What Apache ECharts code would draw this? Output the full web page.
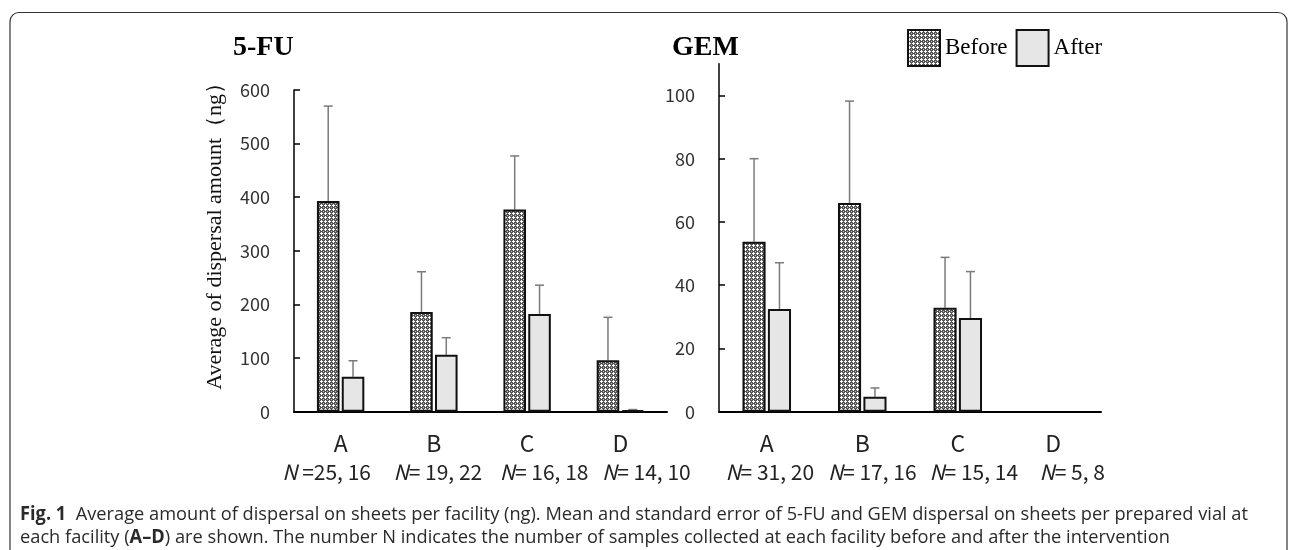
<!DOCTYPE html>
<html>
<head>
<meta charset="utf-8">
<script src="https://cdn.jsdelivr.net/npm/echarts@6/dist/echarts.min.js"></script>
<style>html,body{margin:0;padding:0;background:#fff}#c{width:1295px;height:550px}</style>
</head>
<body>
<div id="c"></div>
<script>
// ---------- data ----------
const categories = ['A', 'B', 'C', 'D'];
const fuBefore   = [393, 186, 377, 96];
const fuBeforeSE = [177, 75, 100, 80];
const fuAfter    = [65, 106, 182, 3];
const fuAfterSE  = [30, 32, 54, 1];
const gemBefore   = [53.7, 66, 32.9, null];
const gemBeforeSE = [26.3, 32.2, 15.9, null];
const gemAfter    = [32.5, 4.7, 29.6, null];
const gemAfterSE  = [14.6, 2.8, 14.7, null];
const fuNBefore  = [25, 19, 16, 14];
const fuNAfter   = [16, 22, 18, 10];
const gemNBefore = [31, 17, 15, 5];
const gemNAfter  = [20, 16, 14, 8];
const fuTicks  = [0, 100, 200, 300, 400, 500, 600];
const gemTicks = [0, 20, 40, 60, 80, 100];
const yAxisTitle = 'Average of dispersal amount（ng）';
const captionLine1 = 'Average amount of dispersal on sheets per facility (ng). Mean and standard error of 5-FU and GEM dispersal on sheets per prepared vial at';
const captionLine2a = 'each facility (';
const captionLine2b = 'A–D';
const captionLine2c = ') are shown. The number N indicates the number of samples collected at each facility before and after the intervention';

// ---------- layout (styling only) ----------
const BAR_PCT = 0.242, GAP_PCT = 0.1;
const fuNShift  = [-14, 4, 17, 26];
const gemNShift = [3, 10, 16, 19];

// pattern for "Before"
function makePattern() {
  const c = document.createElement('canvas');
  c.width = 4; c.height = 4;
  const ctx = c.getContext('2d');
  ctx.fillStyle = '#555555'; ctx.fillRect(0, 0, 4, 4);
  ctx.fillStyle = '#ffffff';
  [[1,0],[0,1],[1,1],[2,1],[1,2]].forEach(p => ctx.fillRect(p[0], p[1], 1, 1));
  ctx.fillStyle = '#c0c0c0'; ctx.fillRect(3, 3, 1, 1);
  return c;
}
const patternFill = { image: makePattern(), repeat: 'repeat' };

const tickFont = { fontFamily: '"Noto Sans CJK JP", "Noto Sans", sans-serif', fontSize: 18, color: '#333' };

function nLabelRich(shifts) {
  const rich = {};
  shifts.forEach((s, i) => {
    rich['i' + i] = { fontStyle: 'italic', fontSize: 21, color: '#222',
      fontFamily: '"Noto Sans CJK JP", "Noto Sans", sans-serif',
      padding: [0, 0, 0, s > 0 ? 2 * s : 0] };
    rich['t' + i] = { fontSize: 21, color: '#222',
      fontFamily: '"Noto Sans CJK JP", "Noto Sans", sans-serif',
      padding: [0, s < 0 ? -2 * s : 0, 0, 0] };
  });
  return rich;
}
function nFormatter(nb, na, spaceFirst) {
  return function (v, i) {
    const eq = (spaceFirst && i === 0) ? ' =' + nb[i] : '= ' + nb[i];
    return '{i' + i + '|N}{t' + i + '|' + eq + ', ' + na[i] + '}';
  };
}

function errSeries(name, gridIdx, means, ses, side) {
  const data = [];
  means.forEach((m, i) => { if (m != null) data.push([i, m, ses[i]]); });
  return {
    type: 'custom', name: name + '_err', xAxisIndex: gridIdx * 2, yAxisIndex: gridIdx,
    z: 1, silent: true, legendHoverLink: false,
    encode: { x: 0, y: 1 },
    data: data,
    renderItem: function (params, api) {
      const band = api.size([1, 0])[0];
      const w = band * BAR_PCT, g = w * GAP_PCT;
      const off = side * (w + g) / 2;
      const p0 = api.coord([api.value(0), api.value(1)]);
      const p1 = api.coord([api.value(0), api.value(1) + api.value(2)]);
      const x = p0[0] + off;
      const cap = 4.5;
      return {
        type: 'group',
        children: [
          { type: 'line', shape: { x1: x, y1: p0[1], x2: x, y2: p1[1] }, style: { stroke: '#7a7a7a', lineWidth: 1.5 } },
          { type: 'line', shape: { x1: x - cap, y1: p1[1], x2: x + cap, y2: p1[1] }, style: { stroke: '#7a7a7a', lineWidth: 1.5 } }
        ]
      };
    }
  };
}

function barSeries(name, gridIdx, values, fill) {
  return {
    type: 'bar', name: name, xAxisIndex: gridIdx * 2, yAxisIndex: gridIdx,
    data: values, barWidth: (BAR_PCT * 100) + '%', barGap: (GAP_PCT * 100) + '%',
    z: 3,
    itemStyle: { color: fill, borderColor: '#111', borderWidth: 2 }
  };
}

function xAxes(gridIdx, nb, na, shifts, spaceFirst) {
  return [
    { type: 'category', gridIndex: gridIdx, data: categories, position: 'bottom',
      axisLine: { show: true, lineStyle: { color: '#000', width: 2 } },
      axisTick: { show: false },
      axisLabel: { margin: 20, fontSize: 23, lineHeight: 23, color: '#222', interval: 0,
        fontFamily: '"Noto Sans CJK JP", "Noto Sans", sans-serif' } },
    { type: 'category', gridIndex: gridIdx, data: categories, position: 'bottom', offset: 0,
      axisLine: { show: false }, axisTick: { show: false },
      axisLabel: { margin: 50, interval: 0, hideOverlap: false,
        formatter: nFormatter(nb, na, spaceFirst), rich: nLabelRich(shifts) } }
  ];
}

const chart = echarts.init(document.getElementById('c'), null, { renderer: 'canvas' });

// caption horizontal compression to fit original width
function measure(text, weight) {
  const c = document.createElement('canvas').getContext('2d');
  c.font = (weight || 'normal') + ' 19px "Open Sans"';
  return c.measureText(text).width;
}
const line1W = measure('Fig. 1', 'bold') + measure('  ' + captionLine1);
const capScale = 1228 / line1W;

const captionFont = '"Open Sans", "Noto Sans", sans-serif';

const option = {
  backgroundColor: '#fff',
  animation: false,
  title: [
    { text: '5-FU', left: 228, top: 29, padding: 5,
      textStyle: { fontFamily: '"Liberation Serif", "Times New Roman", serif', fontWeight: 'bold', fontSize: 28, color: '#000' } },
    { text: 'GEM', left: 667, top: 29, padding: 5,
      textStyle: { fontFamily: '"Liberation Serif", "Times New Roman", serif', fontWeight: 'bold', fontSize: 28, color: '#000' } }
  ],
  legend: {
    data: ['Before', 'After'], left: 902, top: 24, itemWidth: 32, itemHeight: 36, itemGap: 8,
    icon: 'rect',
    textStyle: { fontFamily: '"Liberation Serif", "Times New Roman", serif', fontSize: 23, color: '#000', padding: [0, 0, 0, 0] }
  },
  grid: [
    { left: 294, right: 628, top: 90, bottom: 138.3 },
    { left: 719, right: 194, top: 63.8, bottom: 138.3 }
  ],
  xAxis: [].concat(
    xAxes(0, fuNBefore, fuNAfter, fuNShift, true),
    xAxes(1, gemNBefore, gemNAfter, gemNShift, false)
  ),
  yAxis: [
    { type: 'value', gridIndex: 0, min: 0, max: 600, interval: 100,
      name: yAxisTitle, nameLocation: 'middle', nameGap: 68, nameRotate: 90,
      nameTextStyle: { fontFamily: '"Liberation Serif", "Times New Roman", serif', fontSize: 22, color: '#111', padding: [0, 0, 0, 40] },
      axisLine: { show: true, lineStyle: { color: '#000', width: 1.5 } },
      axisTick: { show: true, inside: true, length: 6, lineStyle: { color: '#000', width: 1.5 } },
      axisLabel: Object.assign({ margin: 24 }, tickFont),
      splitLine: { show: false } },
    { type: 'value', gridIndex: 1, min: 0, max: 110, interval: 20,
      axisLine: { show: true, lineStyle: { color: '#000', width: 1.5 } },
      axisTick: { show: true, inside: true, length: 6, customValues: gemTicks, lineStyle: { color: '#000', width: 1.5 } },
      axisLabel: Object.assign({ margin: 24, customValues: gemTicks }, tickFont),
      splitLine: { show: false } }
  ],
  series: [
    barSeries('Before', 0, fuBefore, patternFill),
    barSeries('After', 0, fuAfter, '#e6e6e6'),
    barSeries('Before', 1, gemBefore, patternFill),
    barSeries('After', 1, gemAfter, '#e6e6e6'),
    errSeries('Before', 0, fuBefore, fuBeforeSE, -1),
    errSeries('After', 0, fuAfter, fuAfterSE, 1),
    errSeries('Before', 1, gemBefore, gemBeforeSE, -1),
    errSeries('After', 1, gemAfter, gemAfterSE, 1)
  ],
  graphic: [
    { type: 'rect', shape: { x: 10, y: 12.5, width: 1277, height: 600, r: 9 }, z: 0,
      style: { fill: null, stroke: '#333', lineWidth: 1.2 }, silent: true },
    { type: 'text', x: 20, y: 505, scaleX: capScale, scaleY: 1, originX: 0, originY: 0,
      style: { text: '{b|Fig. 1}  ' + captionLine1, fontFamily: captionFont, fontSize: 19, fill: '#2a2a2a',
        verticalAlign: 'top',
        rich: { b: { fontWeight: 'bold', fontFamily: captionFont, fontSize: 19, fill: '#2a2a2a' } } } },
    { type: 'text', x: 20, y: 528, scaleX: capScale, scaleY: 1, originX: 0, originY: 0,
      style: { text: captionLine2a + '{b|' + captionLine2b + '}' + captionLine2c, fontFamily: captionFont, fontSize: 19, fill: '#2a2a2a',
        verticalAlign: 'top',
        rich: { b: { fontWeight: 'bold', fontFamily: captionFont, fontSize: 19, fill: '#2a2a2a' } } } }
  ]
};
chart.setOption(option);
</script>
</body>
</html>
